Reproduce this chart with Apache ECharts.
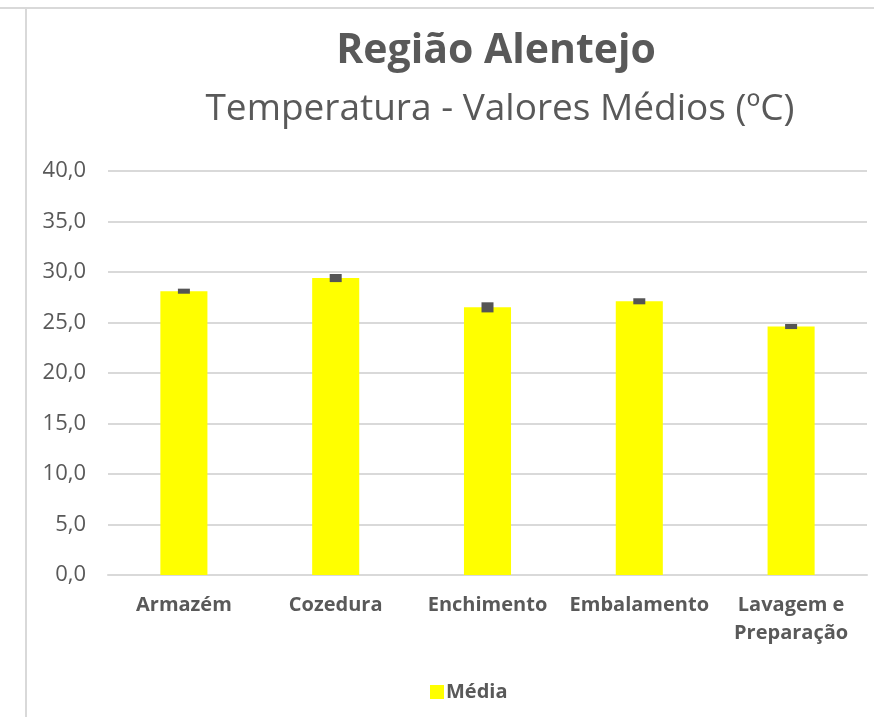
<!DOCTYPE html>
<html>
<head>
<meta charset="utf-8">
<script src="https://cdn.jsdelivr.net/npm/echarts@6/dist/echarts.min.js"></script>
<style>
    html, body { margin: 0; padding: 0; background: #fff; }
    #chart { width: 874px; height: 717px; }
</style>
</head>
<body>
<div id="chart"></div>
<script>
// dados
var categorias = ['Armazém', 'Cozedura', 'Enchimento', 'Embalamento', 'Lavagem e\nPreparação'];
var medias = [28.1, 29.4, 26.5, 27.1, 24.6];
var erros = [0.25, 0.4, 0.5, 0.3, 0.25];
var ticksY = [0, 5, 10, 15, 20, 25, 30, 35, 40];

var corTexto = '#595959';
var corGrelha = '#d9d9d9';
var fonte = '"Open Sans", sans-serif';

function createChart(e) {
    var myChart = echarts.init(document.getElementById(e));

    var dadosErro = medias.map(function (v, i) {
        return [i, v, erros[i]];
    });

    var option = {
        animation: false,
        textStyle: { fontFamily: fonte },
        graphic: [
            { type: 'line', shape: { x1: 0, y1: 8, x2: 874, y2: 8 }, style: { stroke: corGrelha, lineWidth: 2 } },
            { type: 'line', shape: { x1: 26, y1: 9, x2: 26, y2: 717 }, style: { stroke: corGrelha, lineWidth: 2 } },
            {
                type: 'text', x: 496, y: 51,
                style: { text: 'Região Alentejo', fill: corTexto, font: 'bold 41px ' + fonte, align: 'center', verticalAlign: 'middle' }
            },
            {
                type: 'text', x: 500, y: 109,
                style: { text: 'Temperatura - Valores Médios (ºC)', fill: corTexto, font: '37px ' + fonte, align: 'center', verticalAlign: 'middle' }
            }
        ],
        grid: { left: 108, right: 7, top: 171, bottom: 142, containLabel: false },
        legend: {
            data: ['Média'],
            left: 425, top: 677,
            icon: 'rect', itemWidth: 14, itemHeight: 14, itemGap: 10,
            textStyle: { color: corTexto, fontSize: 20, fontWeight: 'bold', fontFamily: fonte, padding: [0, 0, 0, -3] }
        },
        xAxis: {
            type: 'category',
            data: categorias,
            axisLine: { lineStyle: { color: corGrelha, width: 2 } },
            axisTick: { show: false },
            axisLabel: {
                color: corTexto, fontSize: 20, fontWeight: 'bold', fontFamily: fonte,
                margin: 16, lineHeight: 28, interval: 0
            }
        },
        yAxis: {
            type: 'value',
            min: ticksY[0], max: ticksY[ticksY.length - 1], interval: 5,
            axisLine: { show: false },
            axisTick: { show: false },
            splitLine: { lineStyle: { color: corGrelha, width: 2 } },
            axisLabel: {
                color: corTexto, fontSize: 22, fontFamily: fonte, margin: 22,
                formatter: function (v) { return v.toFixed(1).replace('.', ','); }
            }
        },
        series: [
            {
                name: 'Média',
                type: 'bar',
                data: medias,
                barWidth: '31%',
                itemStyle: { color: '#FFFF00' }
            },
            {
                name: 'Erro',
                type: 'custom',
                data: dadosErro,
                z: 5,
                renderItem: function (params, api) {
                    var i = api.value(0), v = api.value(1), err = api.value(2);
                    var topo = api.coord([i, v + err]);
                    var base = api.coord([i, v - err]);
                    return {
                        type: 'rect',
                        shape: { x: topo[0] - 6, y: topo[1], width: 12, height: Math.max(base[1] - topo[1], 3) },
                        style: { fill: '#555555' }
                    };
                }
            }
        ]
    };
    myChart.setOption(option);
}

createChart('chart');
</script>
</body>
</html>
